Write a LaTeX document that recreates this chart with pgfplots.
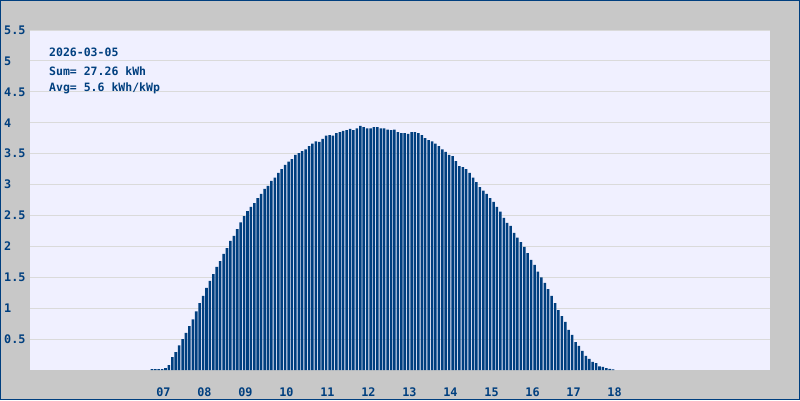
\documentclass[border=0pt]{standalone}
\usepackage{pgfplots}
\pgfplotsset{compat=1.18}
\usepackage{fontspec}
\newfontfamily\pix{DejaVu Sans Mono}
\definecolor{bgc}{RGB}{200,200,200}
\definecolor{plotbg}{RGB}{240,240,255}
\definecolor{navy}{RGB}{0,63,127}
\definecolor{gridc}{RGB}{218,218,218}
\pgfplotstableread{
k v
80 0.015
81 0.015
82 0.015
83 0.015
84 0.03
85 0.08
86 0.21
87 0.29
88 0.40
89 0.50
90 0.60
91 0.71
92 0.82
93 0.95
94 1.08
95 1.20
96 1.33
97 1.44
98 1.55
99 1.67
100 1.76
101 1.88
102 1.97
103 2.09
104 2.17
105 2.28
106 2.39
107 2.49
108 2.57
109 2.64
110 2.70
111 2.78
112 2.85
113 2.93
114 2.98
115 3.06
116 3.11
117 3.19
118 3.25
119 3.32
120 3.37
121 3.41
122 3.48
123 3.51
124 3.54
125 3.57
126 3.62
127 3.66
128 3.70
129 3.69
130 3.74
131 3.79
132 3.80
133 3.79
134 3.83
135 3.85
136 3.87
137 3.88
138 3.90
139 3.88
140 3.91
141 3.95
142 3.93
143 3.91
144 3.91
145 3.93
146 3.93
147 3.91
148 3.91
149 3.89
150 3.88
151 3.89
152 3.85
153 3.83
154 3.83
155 3.82
156 3.85
157 3.85
158 3.83
159 3.80
160 3.75
161 3.72
162 3.70
163 3.66
164 3.62
165 3.57
166 3.53
167 3.48
168 3.46
169 3.38
170 3.30
171 3.28
172 3.25
173 3.19
174 3.11
175 3.04
176 2.96
177 2.90
178 2.85
179 2.78
180 2.72
181 2.64
182 2.56
183 2.46
184 2.38
185 2.33
186 2.22
187 2.14
188 2.07
189 1.99
190 1.89
191 1.78
192 1.70
193 1.59
194 1.50
195 1.41
196 1.31
197 1.20
198 1.08
199 0.97
200 0.87
201 0.78
202 0.65
203 0.57
204 0.45
205 0.39
206 0.31
207 0.23
208 0.18
209 0.13
210 0.11
211 0.06
212 0.05
213 0.03
214 0.02
215 0.01
}\power
\begin{document}
\begin{tikzpicture}[x=1pt,y=1pt]
\useasboundingbox (0,0) rectangle (800,400);
\fill[bgc] (0,0) rectangle (800,400);
\begin{axis}[
  at={(30pt,30pt)}, anchor=south west,
  scale only axis, width=740pt, height=340pt,
  xmin=44.35, xmax=260.9, ymin=0, ymax=5.5,
  axis background/.style={fill=plotbg},
  axis line style={draw=none},
  major tick length=0pt,
  ytick={0.5,1,1.5,2,2.5,3,3.5,4,4.5,5,5.5},
  yticklabels={0.5,1,1.5,2,2.5,3,3.5,4,4.5,5,5.5},
  xtick={83.4,95.4,107.4,119.4,131.4,143.4,155.4,167.4,179.4,191.4,203.4,215.4},
  xticklabels={07,08,09,10,11,12,13,14,15,16,17,18},
  ymajorgrids, grid style={gridc, line width=1pt},
  ticklabel style={font=\pix\bfseries\fontsize{11.8}{12}\selectfont, text=navy, inner sep=0pt},
  yticklabel style={anchor=west, xshift=-26pt},
  xticklabel style={anchor=north, yshift=-18pt},
  ybar, bar width=0.74, bar shift=0pt,
]
\addplot[fill=navy, draw=none] table[x=k, y=v] {\power};
\end{axis}
\draw[navy, line width=1pt] (0.5,0.5) rectangle (799.5,399.5);
\begin{scope}[every node/.style={anchor=base west, inner sep=0pt, text=navy, font=\pix\bfseries\fontsize{11.5}{12}\selectfont}]
\node at (49,344) {2026-03-05};
\node at (49,324.7) {Sum= 27.26 kWh};
\node at (49,309) {Avg= 5.6 kWh/kWp};
\end{scope}
\end{tikzpicture}
\end{document}
